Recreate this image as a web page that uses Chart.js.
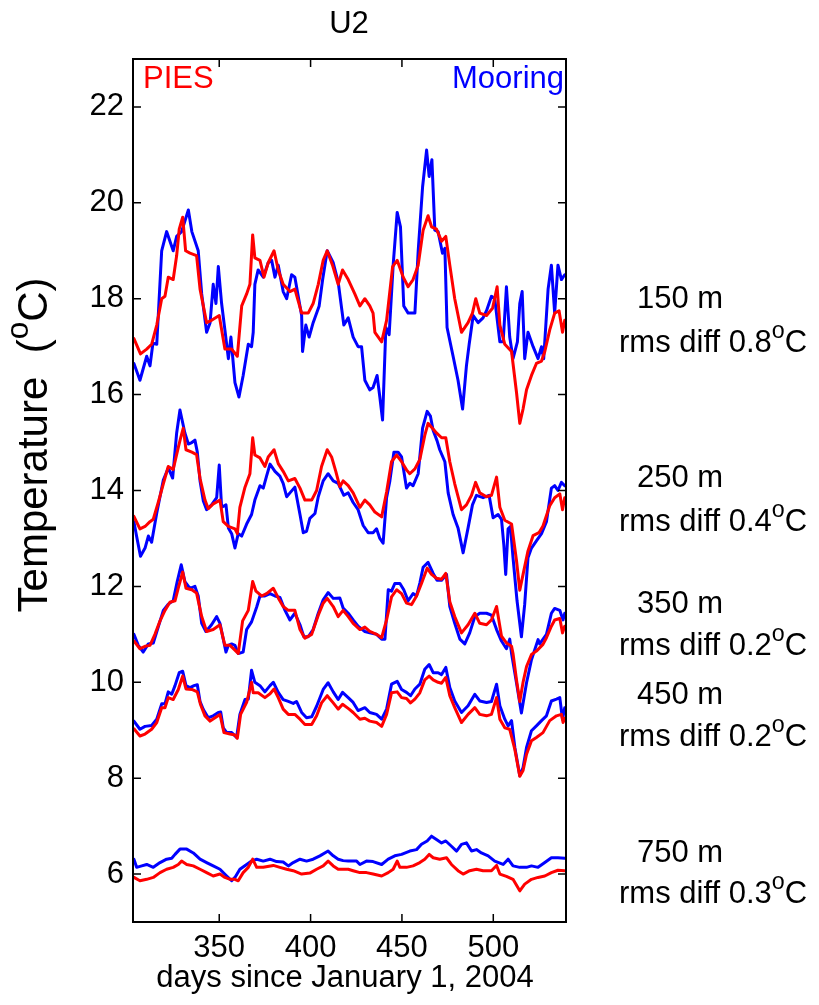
<!DOCTYPE html>
<html>
<head>
<meta charset="utf-8">
<script src="https://cdn.jsdelivr.net/npm/chart.js@4.4.1/dist/chart.umd.min.js"></script>
<style>
  html, body { margin: 0; padding: 0; background: #fff; }
  canvas { display: block; }
</style>
</head>
<body>
<canvas id="u2Chart" width="819" height="1005"></canvas>
<script>
const xTicks = [350, 400, 450, 500];
const yTicks = [6, 8, 10, 12, 14, 16, 18, 20, 22];
const depths = ['150 m', '250 m', '350 m', '450 m', '750 m'];
const rmsDiff = ['0.8', '0.4', '0.2', '0.2', '0.3'];

// [day, temperature]
const pies150 = [[303.3,17.17],[306.9,16.85],[310.3,16.95],[313.0,17.05],[315.8,17.45],[318.5,18.0],[320.3,18.05],[322.1,18.45],[324.8,18.4],[326.7,18.9],[328.1,19.45],[330.0,19.7],[331.6,19.0],[334.0,18.95],[337.6,18.9],[339.5,18.2],[343.1,17.5],[345.8,17.55],[350.0,17.65],[353.1,16.95],[356.8,16.95],[359.9,16.8],[362.3,17.85],[365.0,18.1],[366.8,18.3],[368.3,19.33],[369.5,18.85],[372.3,18.8],[374.5,18.45],[376.8,18.75],[380.0,19.0],[382.3,18.6],[385.0,18.3],[388.7,18.15],[391.4,18.2],[395.1,17.7],[398.7,17.7],[401.4,17.9],[404.2,18.3],[406.9,18.8],[409.1,19.0],[412.0,18.7],[415.1,18.3],[417.5,18.6],[420.6,18.4],[424.2,18.1],[427.0,17.85],[429.7,18.0],[432.4,17.85],[434.2,17.7],[435.2,17.3],[438.9,17.1],[441.6,17.55],[444.9,18.67],[447.4,18.8],[450.7,18.45],[453.4,18.25],[456.1,18.4],[458.9,18.7],[461.6,19.43],[464.3,19.73],[466.2,19.5],[468.9,19.45],[471.7,19.2],[474.0,19.3],[476.2,18.7],[478.9,18.0],[482.6,17.3],[486.2,17.5],[488.6,17.7],[490.4,18.0],[492.6,17.7],[496.3,17.65],[499.6,17.8],[502.1,18.25],[503.6,17.45],[506.3,17.05],[510.0,16.9],[512.7,16.05],[514.5,15.4],[516.3,15.7],[518.2,16.1],[520.9,16.4],[523.6,16.65],[526.4,16.7],[528.2,16.9],[530.9,17.35],[533.6,17.7],[536.0,17.75],[537.9,17.3],[539.1,17.55]];
const moor150 = [[303.3,16.65],[306.6,16.3],[310.3,16.8],[312.1,16.6],[313.7,17.07],[315.8,17.05],[318.5,19.0],[321.2,19.4],[324.8,19.0],[326.7,19.3],[329.4,19.4],[333.1,19.85],[335.0,19.4],[338.5,19.0],[340.4,18.1],[343.1,17.3],[345.0,17.5],[346.7,18.3],[348.2,17.9],[349.5,18.67],[351.3,17.9],[353.1,17.35],[355.0,16.75],[356.4,17.2],[358.6,16.25],[360.8,15.95],[363.1,16.4],[365.9,17.05],[367.7,17.0],[368.6,17.3],[369.5,18.3],[371.3,18.6],[374.1,18.45],[376.8,18.75],[378.7,18.8],[380.5,18.45],[382.3,18.7],[385.0,18.15],[386.9,18.0],[389.6,18.5],[391.4,18.45],[395.1,17.65],[395.6,16.9],[397.4,17.45],[399.2,17.2],[401.4,17.5],[404.7,17.85],[406.6,18.4],[409.1,19.0],[412.4,18.75],[415.1,18.35],[418.2,17.45],[420.6,17.6],[423.3,17.2],[426.0,17.0],[427.9,17.0],[429.7,16.3],[432.4,16.1],[434.2,16.15],[436.4,16.4],[437.9,15.95],[439.4,15.47],[441.2,17.4],[443.0,17.25],[445.2,18.7],[447.4,19.8],[449.2,19.5],[451.0,17.85],[453.4,17.7],[457.1,17.7],[458.9,19.0],[461.3,20.33],[463.5,21.1],[464.9,20.55],[466.4,20.9],[468.0,19.43],[469.8,19.4],[472.2,18.95],[473.5,19.05],[474.7,17.4],[478.0,16.8],[480.7,16.3],[483.2,15.7],[485.3,16.6],[486.8,17.05],[489.0,17.65],[491.7,17.5],[494.4,17.6],[496.3,17.75],[499.0,18.05],[500.8,18.0],[503.6,17.1],[505.4,17.1],[507.2,18.25],[509.0,17.2],[510.8,16.75],[513.2,17.1],[514.5,17.9],[515.8,18.15],[517.2,16.75],[519.0,17.3],[521.8,17.0],[524.5,16.75],[526.4,17.0],[527.6,16.75],[530.0,18.2],[531.8,18.7],[533.6,17.7],[535.4,18.7],[537.3,18.4],[539.1,18.5]];
const pies250 = [[303.3,13.46],[306.6,13.2],[309.4,13.25],[312.1,13.35],[313.9,13.4],[316.6,13.75],[319.4,14.14],[322.1,14.5],[324.8,14.44],[327.6,14.9],[328.9,15.1],[330.3,15.3],[331.8,14.85],[335.0,14.8],[337.6,14.75],[339.5,14.25],[342.2,13.8],[344.0,13.62],[346.7,13.72],[350.4,13.8],[352.2,13.35],[355.0,13.25],[358.6,13.2],[359.9,13.1],[361.3,13.65],[364.1,14.07],[366.8,14.35],[368.3,15.1],[369.5,14.74],[372.3,14.68],[375.0,14.5],[376.8,14.7],[380.0,14.85],[382.3,14.56],[385.0,14.4],[387.8,14.2],[391.4,14.25],[394.2,14.05],[396.9,13.8],[400.6,13.8],[403.3,14.0],[406.0,14.5],[409.1,14.85],[411.5,14.7],[413.8,14.4],[416.0,14.08],[417.8,14.2],[420.6,14.1],[423.3,13.95],[427.0,13.65],[429.7,13.8],[432.4,13.7],[435.2,13.55],[438.9,13.45],[441.6,13.97],[444.3,14.6],[447.1,14.74],[449.8,14.6],[452.5,14.43],[454.3,14.35],[457.1,14.45],[459.8,14.65],[462.5,15.15],[464.3,15.4],[466.7,15.3],[468.9,15.2],[471.7,15.1],[474.0,15.1],[476.2,14.6],[478.9,14.14],[482.6,13.6],[485.3,13.7],[488.1,13.9],[490.3,14.17],[492.6,13.95],[496.3,13.87],[499.0,13.9],[501.8,14.28],[503.6,13.65],[506.3,13.38],[510.0,13.3],[512.7,12.54],[514.5,11.92],[516.3,12.25],[519.0,12.74],[521.8,13.06],[525.0,13.12],[527.2,13.26],[530.9,13.68],[533.6,13.85],[536.4,13.93],[537.9,13.6],[539.1,13.85]];
const moor250 = [[303.3,13.35],[304.8,13.04],[306.9,12.63],[309.4,12.8],[311.2,13.05],[313.0,12.92],[315.8,13.53],[319.4,14.22],[322.1,14.47],[324.5,14.26],[326.7,15.2],[328.5,15.68],[331.2,15.2],[333.1,14.97],[335.0,15.0],[336.7,15.05],[338.0,14.8],[339.5,14.2],[341.3,13.78],[343.1,13.6],[345.8,13.7],[348.6,13.85],[350.0,14.53],[351.3,13.65],[353.7,13.7],[355.0,13.22],[356.8,13.1],[358.6,12.8],[360.4,13.1],[362.3,13.05],[365.0,13.3],[367.7,13.5],[369.5,13.8],[372.3,14.1],[374.1,14.05],[375.9,14.3],[377.8,14.55],[380.5,14.4],[383.2,14.3],[385.0,14.15],[386.9,13.87],[388.7,13.95],[391.4,14.07],[394.2,13.5],[396.0,13.12],[397.8,13.15],[399.6,13.42],[402.4,13.52],[404.2,13.87],[406.9,14.2],[409.6,14.35],[412.4,14.2],[415.1,14.15],[418.2,13.9],[420.6,13.95],[423.3,13.75],[426.0,13.6],[428.8,13.27],[431.5,13.12],[434.2,13.12],[436.1,13.2],[437.9,13.0],[439.7,12.9],[441.6,13.85],[443.4,14.2],[445.6,14.8],[447.9,14.8],[449.8,14.7],[452.5,14.05],[454.3,14.15],[456.1,14.1],[458.9,14.35],[461.3,15.3],[463.8,15.65],[465.6,15.55],[467.1,15.25],[469.2,15.04],[470.7,14.85],[473.5,14.6],[475.3,13.95],[478.0,13.5],[480.7,13.22],[483.5,12.7],[486.2,13.22],[488.6,13.7],[490.8,13.9],[494.4,13.85],[497.7,13.9],[499.9,13.43],[502.6,13.5],[504.5,13.4],[505.8,12.85],[506.8,12.25],[508.1,13.2],[509.4,13.25],[510.8,12.6],[513.0,11.7],[515.4,10.95],[517.2,11.63],[519.0,12.6],[520.9,12.8],[523.6,12.95],[526.4,13.1],[529.1,13.35],[531.8,14.05],[533.6,14.1],[535.4,14.0],[537.3,14.17],[539.1,14.1]];
const pies350 = [[303.3,10.86],[306.6,10.7],[309.4,10.75],[312.1,10.77],[314.8,11.0],[317.6,11.28],[320.3,11.5],[323.0,11.67],[325.8,11.7],[327.6,11.97],[330.0,12.3],[331.8,11.96],[335.0,11.93],[337.6,11.86],[340.4,11.37],[343.1,11.06],[346.7,11.1],[350.4,11.2],[353.1,10.77],[355.9,10.77],[358.6,10.67],[360.4,10.6],[362.8,11.28],[365.9,11.5],[368.3,12.1],[370.1,11.9],[373.2,11.8],[375.9,11.85],[379.6,11.96],[382.3,11.76],[385.0,11.58],[387.8,11.5],[391.4,11.5],[394.2,11.1],[396.9,10.92],[400.6,11.0],[404.2,11.4],[406.9,11.65],[409.1,11.75],[412.4,11.58],[415.1,11.37],[417.8,11.5],[420.6,11.37],[423.3,11.23],[427.0,11.1],[429.7,11.15],[432.4,11.06],[436.1,11.0],[438.9,10.93],[441.6,11.3],[444.3,11.78],[447.1,11.93],[449.8,11.85],[452.5,11.65],[455.3,11.62],[458.0,11.8],[460.7,12.06],[463.8,12.38],[466.2,12.25],[468.9,12.17],[471.7,12.15],[474.0,12.27],[476.2,11.68],[478.9,11.37],[482.6,11.03],[486.2,11.2],[489.9,11.44],[492.6,11.23],[496.3,11.2],[499.0,11.3],[501.8,11.58],[504.5,10.96],[507.2,10.82],[510.0,10.75],[510.8,10.6],[512.7,10.05],[514.5,9.6],[516.3,10.0],[518.2,10.33],[520.9,10.58],[523.6,10.65],[527.2,10.79],[529.1,10.93],[531.8,11.17],[533.6,11.3],[536.4,11.33],[537.9,11.03],[539.1,11.17]];
const moor350 = [[303.3,11.0],[305.7,10.77],[308.4,10.63],[311.2,10.8],[313.9,10.82],[316.6,11.15],[319.4,11.5],[322.1,11.63],[324.8,11.7],[327.0,12.1],[329.2,12.45],[331.2,12.1],[334.0,11.96],[336.7,12.0],[338.5,11.8],[340.4,11.23],[342.7,11.06],[345.8,11.2],[348.6,11.37],[350.4,11.23],[352.2,10.9],[353.7,10.63],[355.0,10.77],[356.8,10.8],[358.6,10.77],[360.4,10.6],[363.1,10.63],[365.0,11.1],[367.7,11.26],[370.5,11.57],[372.3,11.8],[375.0,11.8],[377.8,11.85],[380.5,11.8],[383.2,11.77],[386.0,11.5],[388.7,11.3],[391.4,11.44],[394.2,11.2],[396.3,10.95],[398.7,10.95],[401.4,11.1],[404.2,11.44],[406.9,11.72],[409.6,11.87],[412.4,11.75],[416.0,11.76],[417.8,11.55],[420.6,11.44],[423.3,11.3],[426.0,11.17],[429.7,11.06],[432.4,11.03],[436.1,11.0],[438.9,10.9],[440.7,10.9],[442.5,11.93],[444.3,11.9],[446.1,12.06],[448.9,12.06],[451.0,11.93],[453.4,11.7],[456.1,11.85],[458.0,11.8],[459.8,12.07],[461.6,12.4],[464.3,12.5],[467.1,12.27],[469.2,12.13],[471.7,12.13],[474.4,12.25],[476.2,11.58],[478.9,11.23],[481.7,10.9],[484.4,10.8],[487.1,11.03],[489.9,11.37],[492.6,11.44],[496.3,11.44],[499.0,11.4],[501.8,11.1],[504.5,10.86],[507.2,10.7],[509.0,10.9],[510.0,10.6],[512.7,9.99],[515.4,9.36],[518.2,9.99],[520.9,10.47],[524.5,10.89],[525.4,10.8],[529.1,11.0],[531.8,11.44],[533.6,11.54],[536.4,11.5],[538.2,11.3],[539.1,11.44]];
const pies450 = [[303.3,9.03],[306.6,8.88],[309.4,8.92],[313.0,9.02],[315.8,9.16],[318.5,9.47],[320.3,9.47],[322.1,9.68],[324.8,9.64],[327.6,9.85],[330.0,10.13],[331.8,9.86],[335.0,9.85],[338.0,9.8],[339.8,9.53],[342.2,9.3],[345.0,9.19],[347.7,9.26],[350.4,9.33],[352.6,8.95],[355.9,8.92],[358.6,8.9],[359.9,8.83],[361.7,9.33],[365.0,9.58],[367.7,10.0],[368.6,9.78],[371.3,9.78],[375.0,9.68],[377.8,9.76],[380.0,9.86],[382.3,9.68],[385.0,9.44],[387.8,9.33],[391.4,9.33],[394.2,9.23],[396.9,9.12],[400.6,9.12],[403.3,9.3],[406.0,9.57],[409.1,9.72],[412.4,9.57],[415.1,9.44],[417.5,9.54],[421.1,9.44],[423.3,9.37],[427.0,9.23],[429.7,9.25],[432.4,9.19],[436.1,9.16],[438.9,9.08],[441.6,9.33],[444.3,9.78],[447.4,9.8],[449.8,9.68],[452.5,9.66],[454.7,9.57],[457.1,9.65],[459.8,9.78],[462.5,10.05],[464.9,10.13],[467.1,10.05],[469.8,10.0],[471.7,9.98],[474.0,10.1],[476.2,9.72],[478.9,9.47],[482.6,9.16],[486.2,9.33],[489.9,9.47],[492.6,9.33],[496.3,9.3],[499.0,9.33],[501.8,9.68],[503.6,9.23],[506.3,9.05],[509.0,9.02],[511.8,8.6],[514.5,8.04],[516.3,8.16],[518.2,8.5],[520.9,8.78],[523.6,8.85],[527.2,8.95],[530.9,9.2],[534.6,9.3],[537.3,9.33],[538.2,9.16],[539.1,9.25]];
const moor450 = [[303.3,9.19],[306.6,9.02],[309.4,9.08],[313.0,9.1],[315.8,9.23],[318.5,9.55],[320.3,9.55],[322.1,9.8],[324.0,9.75],[325.8,9.93],[328.1,10.2],[330.0,10.23],[331.8,9.93],[334.0,9.89],[336.2,9.93],[338.0,9.95],[339.5,9.6],[341.3,9.43],[344.0,9.26],[346.7,9.3],[349.5,9.37],[350.8,9.38],[352.2,9.05],[354.1,8.95],[356.8,8.95],[359.5,8.85],[361.3,9.33],[364.1,9.64],[365.9,9.65],[367.7,10.25],[369.5,10.0],[372.3,9.93],[375.0,9.8],[377.8,9.93],[379.6,10.0],[382.3,9.79],[385.0,9.64],[387.8,9.6],[390.5,9.56],[392.3,9.6],[395.1,9.37],[397.8,9.26],[400.6,9.28],[403.3,9.5],[406.9,9.85],[409.6,9.99],[412.4,9.8],[415.1,9.64],[417.5,9.79],[420.6,9.68],[423.3,9.58],[426.0,9.41],[429.7,9.47],[432.4,9.37],[436.1,9.33],[438.9,9.23],[441.6,9.44],[444.3,9.96],[447.4,10.02],[449.8,9.85],[452.5,9.79],[454.7,9.72],[457.1,9.86],[459.8,9.96],[462.5,10.27],[464.9,10.37],[467.1,10.2],[469.8,10.2],[471.7,10.16],[474.0,10.31],[476.2,9.89],[478.9,9.61],[482.6,9.37],[486.2,9.51],[489.9,9.75],[492.6,9.61],[496.3,9.58],[499.0,9.6],[501.8,9.96],[503.6,9.51],[506.3,9.23],[508.1,9.09],[510.0,9.2],[511.8,8.64],[514.5,8.05],[516.3,8.22],[518.2,8.64],[520.9,8.99],[523.6,9.09],[526.4,9.2],[529.1,9.3],[531.8,9.61],[534.6,9.65],[536.4,9.68],[537.9,9.23],[539.1,9.47]];
const pies750 = [[303.3,5.93],[306.6,5.86],[310.3,5.89],[313.9,5.93],[317.6,6.03],[321.2,6.1],[324.8,6.14],[327.6,6.2],[329.4,6.27],[332.2,6.2],[335.8,6.17],[339.5,6.1],[343.1,6.03],[346.7,5.96],[350.4,6.0],[353.1,5.93],[355.9,5.89],[358.6,5.89],[360.4,5.86],[363.1,6.03],[365.9,6.14],[368.3,6.31],[370.5,6.14],[374.1,6.14],[379.6,6.18],[383.2,6.14],[386.9,6.1],[390.5,6.07],[395.1,6.0],[399.6,6.02],[403.3,6.1],[406.9,6.17],[409.6,6.27],[412.4,6.17],[415.1,6.1],[420.6,6.1],[423.3,6.07],[427.0,6.03],[430.6,6.03],[434.2,6.0],[438.9,5.96],[442.5,6.03],[445.2,6.1],[447.4,6.27],[448.9,6.14],[452.5,6.14],[456.1,6.17],[459.8,6.24],[462.5,6.31],[464.9,6.41],[467.1,6.34],[470.7,6.31],[474.4,6.34],[477.1,6.2],[480.7,6.07],[483.5,6.0],[487.1,6.07],[490.8,6.1],[494.4,6.07],[499.0,6.07],[501.8,6.18],[503.6,6.0],[507.2,5.95],[510.8,5.89],[514.5,5.65],[517.2,5.79],[520.9,5.89],[524.5,5.93],[528.2,5.96],[531.8,6.03],[535.4,6.08],[539.1,6.07]];
const moor750 = [[303.3,6.31],[304.8,6.14],[307.6,6.17],[310.3,6.2],[313.9,6.14],[317.6,6.24],[321.2,6.31],[324.0,6.33],[325.8,6.41],[328.5,6.52],[332.2,6.52],[335.8,6.44],[339.5,6.31],[343.1,6.24],[346.7,6.17],[350.4,6.1],[354.1,5.96],[356.8,5.86],[358.6,5.93],[361.3,6.1],[365.0,6.2],[367.7,6.27],[370.5,6.31],[374.1,6.27],[377.8,6.31],[381.4,6.26],[385.0,6.25],[387.8,6.17],[390.5,6.24],[394.2,6.31],[397.8,6.27],[401.4,6.31],[405.1,6.38],[409.6,6.48],[412.4,6.38],[415.1,6.31],[417.8,6.28],[420.6,6.27],[425.2,6.27],[427.0,6.2],[430.6,6.27],[434.2,6.26],[438.9,6.2],[442.5,6.31],[446.1,6.38],[449.8,6.41],[454.3,6.48],[458.0,6.51],[460.7,6.62],[463.8,6.69],[466.2,6.79],[468.9,6.72],[471.7,6.65],[474.0,6.69],[477.1,6.58],[479.9,6.48],[482.6,6.62],[485.3,6.65],[488.1,6.48],[490.8,6.51],[493.5,6.44],[497.2,6.38],[500.8,6.27],[505.4,6.2],[508.1,6.31],[510.8,6.17],[514.5,6.14],[518.2,6.14],[520.9,6.17],[524.5,6.14],[528.2,6.24],[531.8,6.34],[535.4,6.34],[539.1,6.33]];

const piesColor = '#ff0000';
const moorColor = '#0000ff';
const fontFamily = '"Liberation Sans", Arial, Helvetica, sans-serif';

function line(data, color) {
    return {
        data: data, borderColor: color, borderWidth: 3, pointRadius: 0, tension: 0, fill: false,
        borderJoinStyle: 'round', borderCapStyle: 'round'
    };
}

// text with a raised small "o" for the degree sign
function richText(ctx, parts, x, y, size, align) {
    let total = 0;
    parts.forEach(p => {
        ctx.font = (p.sup ? size * 0.75 : size) + 'px ' + fontFamily;
        p.w = ctx.measureText(p.t).width;
        total += p.w;
    });
    let cx = align === 'center' ? x - total / 2 : x;
    ctx.textAlign = 'left';
    ctx.textBaseline = 'alphabetic';
    parts.forEach(p => {
        ctx.font = (p.sup ? size * 0.75 : size) + 'px ' + fontFamily;
        ctx.fillText(p.t, cx, p.sup ? y - size * 0.45 : y);
        cx += p.w;
    });
}

const decorPlugin = {
    id: 'decor',
    afterDatasetsDraw(chart) {
        const ctx = chart.ctx;
        const a = chart.chartArea;
        const xs = chart.scales.x, ys = chart.scales.y;
        ctx.save();
        ctx.strokeStyle = '#000';
        ctx.lineWidth = 2;
        ctx.strokeRect(a.left, a.top, a.right - a.left, a.bottom - a.top);
        ctx.lineWidth = 1.5;
        ctx.beginPath();
        xTicks.forEach(v => {
            const px = xs.getPixelForValue(v);
            ctx.moveTo(px, a.bottom); ctx.lineTo(px, a.bottom - 8);
            ctx.moveTo(px, a.top); ctx.lineTo(px, a.top + 8);
        });
        yTicks.forEach(v => {
            const py = ys.getPixelForValue(v);
            ctx.moveTo(a.left, py); ctx.lineTo(a.left + 8, py);
            ctx.moveTo(a.right, py); ctx.lineTo(a.right - 8, py);
        });
        ctx.stroke();

        ctx.fillStyle = '#000';
        ctx.font = '31px ' + fontFamily;
        ctx.textAlign = 'center';
        ctx.textBaseline = 'alphabetic';
        ctx.fillText('U2', 349, 33);
        ctx.fillText('days since January 1, 2004', 345, 987);

        ctx.fillStyle = piesColor;
        ctx.textAlign = 'left';
        ctx.fillText('PIES', 143, 88);
        ctx.fillStyle = moorColor;
        ctx.textAlign = 'right';
        ctx.fillText('Mooring', 564, 88);

        ctx.fillStyle = '#000';
        const rows = [[308, 352], [487, 531], [613, 655], [704, 746], [862, 903]];
        depths.forEach((d, i) => {
            ctx.font = '31px ' + fontFamily;
            ctx.textAlign = 'left';
            ctx.fillText(d, 637, rows[i][0]);
            richText(ctx, [{ t: 'rms diff ' + rmsDiff[i] }, { t: 'o', sup: true }, { t: 'C' }], 619, rows[i][1], 31, 'left');
        });

        ctx.translate(47, 445);
        ctx.rotate(-Math.PI / 2);
        richText(ctx, [{ t: 'Temperature  (' }, { t: 'o', sup: true }, { t: 'C)' }], 0, 0, 42, 'center');
        ctx.restore();
    }
};

document.addEventListener('DOMContentLoaded', function () {
    const ctx = document.getElementById('u2Chart').getContext('2d');
    new Chart(ctx, {
        type: 'line',
        data: {
            datasets: [
                line(pies150, piesColor), line(pies250, piesColor), line(pies350, piesColor),
                line(pies450, piesColor), line(pies750, piesColor),
                line(moor150, moorColor), line(moor250, moorColor), line(moor350, moorColor),
                line(moor450, moorColor), line(moor750, moorColor)
            ]
        },
        options: {
            responsive: false,
            animation: false,
            layout: { padding: { top: 59, right: 253, bottom: 0, left: 0 } },
            plugins: { legend: { display: false }, tooltip: { enabled: false } },
            scales: {
                x: {
                    type: 'linear',
                    min: 302.8,
                    max: 539.8,
                    grid: { display: false, drawTicks: false },
                    border: { display: false },
                    ticks: { color: '#000', font: { family: fontFamily, size: 31, lineHeight: 1 }, padding: 11, maxRotation: 0 },
                    afterBuildTicks: s => { s.ticks = xTicks.map(v => ({ value: v })); },
                    afterFit: s => { s.height = 83; }
                },
                y: {
                    min: 5,
                    max: 23,
                    grid: { display: false, drawTicks: false },
                    border: { display: false },
                    ticks: { color: '#000', font: { family: fontFamily, size: 31, lineHeight: 1 }, padding: 9 },
                    afterBuildTicks: s => { s.ticks = yTicks.map(v => ({ value: v })); },
                    afterFit: s => { s.width = 133; }
                }
            }
        },
        plugins: [decorPlugin]
    });
});
</script>
</body>
</html>
